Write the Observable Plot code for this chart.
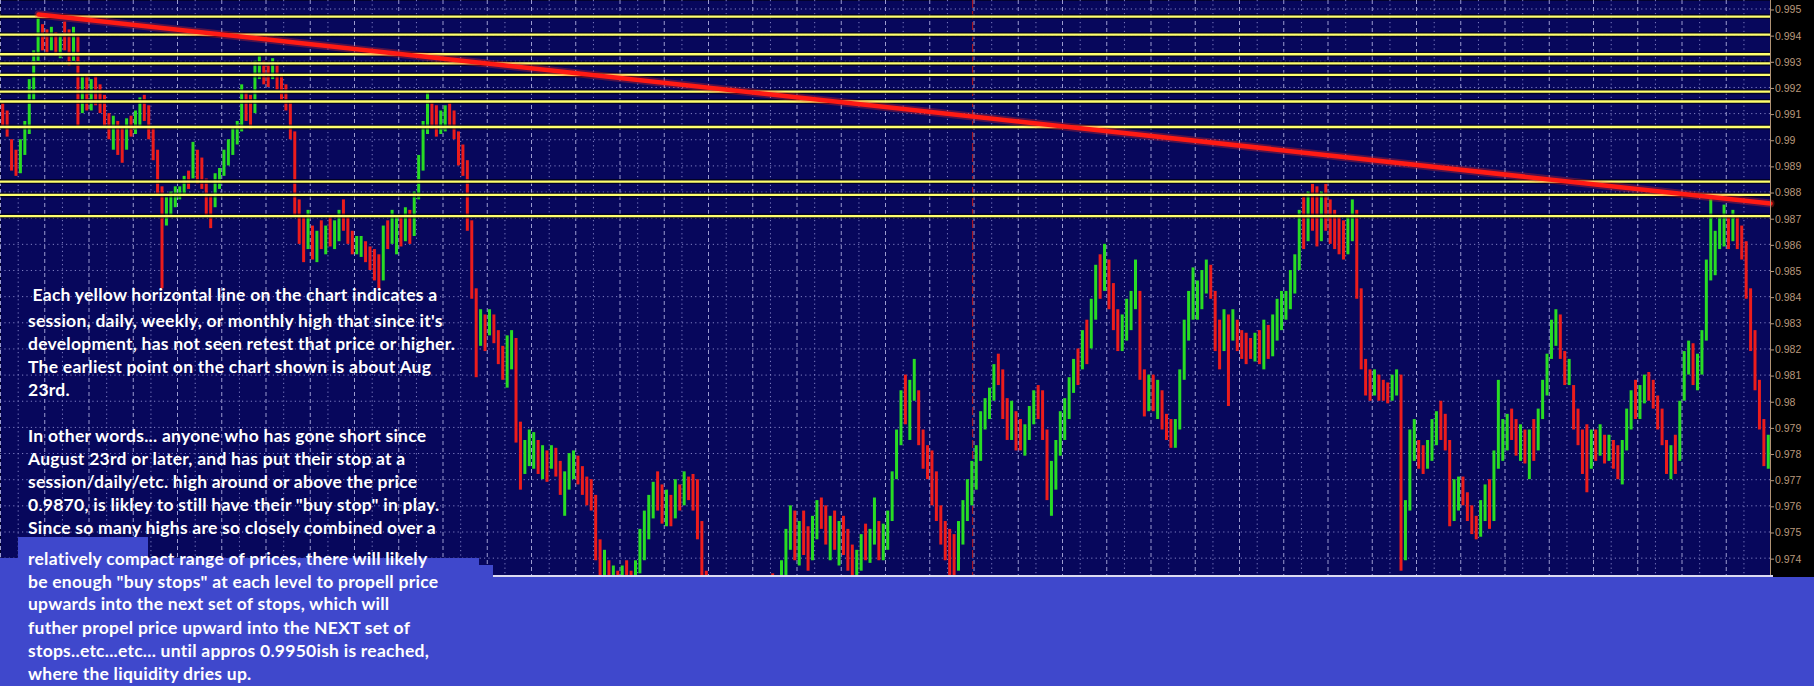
<!DOCTYPE html>
<html><head><meta charset="utf-8">
<script src="https://cdn.jsdelivr.net/npm/d3@7"></script>
<script src="https://cdn.jsdelivr.net/npm/@observablehq/plot@0.6"></script>
<style>
html,body{margin:0;padding:0;background:#3f48cc;}
#wrap{position:relative;width:1814px;height:686px;overflow:hidden;background:#3f48cc;}
#chart svg{display:block;}
#below{height:109px;background:#3f48cc;}
.patch{position:absolute;background:#3f48cc;}
.note{position:absolute;left:28px;color:#fff;font-family:Lato,"Open Sans",sans-serif;font-weight:700;font-size:17.5px;letter-spacing:0.25px;white-space:pre;line-height:20px;}
</style></head><body>
<div id="wrap"><div id="chart"></div><div id="below"></div></div>
<script>
// ---- data (prices in pips: 9908 = 0.9908), one bar per index ----
const firstOpen = 9910;
const barHigh = [
9914,9911,9900,9896,9900,9907,9923,9934,9947,9944,
9942,9943,9941,9940,9945,9942,9943,9940,9924,9925,
9923,9924,9921,9917,9910,9909,9907,9905,9908,9909,
9911,9916,9917,9913,9905,9896,9882,9878,9880,9882,
9882,9886,9888,9899,9896,9893,9885,9879,9887,9889,
9896,9900,9905,9907,9921,9918,9917,9930,9932,9930,
9929,9931,9929,9925,9921,9915,9903,9877,9871,9873,
9867,9865,9869,9867,9871,9869,9873,9877,9871,9865,
9863,9863,9861,9859,9858,9856,9867,9869,9873,9871,
9871,9874,9873,9880,9894,9907,9918,9915,9913,9911,
9913,9914,9911,9903,9898,9892,9869,9843,9835,9833,
9835,9833,9827,9821,9825,9827,9824,9792,9785,9789,
9788,9785,9783,9781,9783,9782,9777,9773,9780,9781,
9779,9775,9771,9770,9764,9747,9743,9739,9737,9735,
9737,9739,9735,9739,9751,9758,9764,9769,9773,9768,
9766,9764,9770,9768,9773,9771,9772,9770,9754,9735,
9724,9720,9718,9716,9720,9718,9722,9724,9721,9726,
9728,9730,9729,9733,9734,9732,9739,9751,9760,9758,
9754,9758,9752,9756,9762,9763,9760,9756,9758,9754,
9756,9751,9745,9743,9749,9753,9751,9763,9754,9753,
9758,9773,9789,9804,9810,9808,9816,9804,9789,9783,
9781,9773,9760,9754,9751,9749,9754,9762,9770,9777,
9783,9796,9801,9805,9814,9818,9812,9801,9800,9796,
9793,9791,9798,9804,9806,9804,9789,9777,9785,9796,
9801,9809,9816,9820,9827,9831,9839,9852,9856,9860,
9854,9845,9835,9833,9839,9842,9854,9842,9812,9810,
9810,9808,9804,9795,9793,9793,9812,9831,9842,9851,
9846,9850,9854,9852,9842,9831,9835,9833,9835,9831,
9827,9826,9824,9826,9827,9831,9829,9833,9839,9842,
9842,9850,9856,9873,9878,9880,9883,9882,9880,9883,
9877,9873,9871,9869,9871,9877,9873,9843,9816,9812,
9812,9810,9808,9807,9810,9812,9810,9762,9789,9793,
9785,9783,9785,9793,9796,9800,9795,9785,9770,9771,
9771,9765,9760,9756,9762,9768,9770,9781,9808,9793,
9795,9797,9793,9791,9789,9789,9793,9797,9808,9818,
9831,9835,9833,9819,9816,9806,9797,9789,9791,9789,
9789,9791,9787,9787,9785,9783,9785,9797,9804,9808,
9806,9810,9811,9808,9802,9797,9785,9783,9787,9800,
9819,9823,9822,9818,9827,9854,9877,9865,9871,9875,
9871,9873,9871,9867,9861,9843,9827,9808,9793,9787];
const barLow = [
9905,9901,9888,9886,9887,9894,9902,9915,9930,9934,
9933,9934,9932,9931,9934,9928,9930,9905,9910,9911,
9911,9913,9910,9905,9900,9896,9894,9891,9896,9901,
9902,9905,9907,9900,9892,9879,9843,9867,9871,9874,
9877,9879,9881,9885,9883,9881,9871,9866,9874,9881,
9886,9890,9894,9898,9903,9907,9904,9910,9923,9921,
9920,9923,9919,9915,9911,9900,9871,9860,9853,9858,
9854,9853,9858,9856,9859,9858,9861,9865,9860,9856,
9856,9855,9853,9850,9846,9843,9846,9858,9860,9856,
9859,9861,9860,9863,9877,9888,9902,9904,9901,9902,
9903,9905,9900,9890,9886,9865,9839,9809,9821,9819,
9825,9822,9814,9808,9805,9812,9784,9766,9772,9775,
9774,9772,9770,9769,9774,9771,9764,9756,9766,9770,
9768,9764,9760,9758,9739,9724,9724,9720,9719,9716,
9724,9724,9720,9724,9734,9739,9747,9755,9758,9753,
9752,9752,9755,9758,9760,9762,9758,9747,9724,9716,
9712,9708,9705,9703,9708,9706,9710,9712,9709,9714,
9716,9718,9717,9720,9722,9720,9724,9732,9743,9739,
9737,9741,9735,9739,9747,9751,9745,9739,9743,9737,
9741,9735,9730,9732,9735,9739,9738,9745,9739,9739,
9743,9754,9770,9783,9791,9785,9800,9783,9774,9770,
9760,9754,9745,9739,9733,9733,9735,9745,9754,9760,
9766,9777,9789,9793,9800,9806,9793,9785,9785,9781,
9781,9779,9785,9791,9793,9785,9762,9756,9766,9779,
9785,9793,9803,9806,9812,9814,9820,9831,9839,9842,
9835,9827,9819,9819,9823,9827,9835,9808,9794,9796,
9796,9793,9789,9785,9782,9782,9789,9808,9823,9831,
9831,9835,9841,9839,9819,9812,9819,9798,9823,9819,
9816,9814,9816,9815,9814,9812,9816,9817,9823,9827,
9831,9835,9841,9850,9858,9861,9865,9859,9861,9865,
9860,9858,9856,9854,9856,9861,9839,9812,9802,9800,
9802,9800,9800,9799,9800,9802,9735,9739,9758,9777,
9774,9772,9774,9777,9783,9785,9781,9752,9754,9758,
9760,9754,9749,9747,9748,9754,9751,9754,9774,9777,
9781,9785,9779,9777,9776,9770,9777,9781,9793,9802,
9816,9821,9816,9806,9806,9789,9783,9772,9765,9774,
9777,9779,9776,9777,9774,9770,9768,9781,9789,9793,
9793,9799,9800,9797,9789,9783,9772,9770,9772,9777,
9800,9810,9806,9804,9810,9823,9846,9848,9858,9859,
9858,9861,9858,9854,9839,9819,9804,9789,9775,9774];
const barClose = [
9908,9902,9892,9889,9897,9905,9920,9930,9940,9938,
9936,9940,9934,9937,9935,9933,9938,9918,9920,9914,
9919,9915,9913,9909,9902,9905,9898,9895,9905,9904,
9909,9910,9908,9901,9895,9882,9868,9875,9878,9879,
9880,9884,9883,9890,9886,9884,9874,9872,9884,9887,
9893,9897,9902,9905,9915,9912,9908,9926,9928,9925,
9922,9927,9921,9917,9912,9903,9874,9866,9861,9866,
9858,9862,9860,9864,9862,9866,9870,9869,9862,9858,
9858,9860,9855,9852,9849,9846,9862,9860,9866,9868,
9863,9870,9864,9878,9890,9902,9912,9908,9906,9909,
9910,9908,9902,9894,9889,9868,9842,9826,9832,9829,
9832,9824,9816,9810,9820,9822,9792,9778,9782,9785,
9785,9776,9779,9773,9780,9774,9767,9768,9776,9779,
9772,9766,9763,9760,9742,9730,9736,9725,9730,9722,
9733,9728,9724,9737,9748,9754,9760,9766,9762,9757,
9760,9755,9764,9762,9770,9765,9760,9750,9728,9720,
9716,9712,9709,9713,9710,9714,9717,9715,9719,9722,
9724,9722,9727,9730,9726,9729,9736,9748,9752,9745,
9750,9744,9740,9752,9758,9754,9748,9752,9746,9750,
9744,9738,9733,9740,9745,9742,9748,9750,9744,9749,
9755,9770,9786,9798,9795,9803,9805,9786,9778,9773,
9765,9758,9750,9744,9740,9736,9750,9757,9766,9773,
9779,9792,9798,9803,9812,9808,9796,9790,9792,9786,
9784,9788,9795,9800,9797,9790,9770,9772,9783,9792,
9797,9806,9812,9809,9822,9818,9834,9846,9843,9852,
9840,9830,9822,9828,9834,9838,9840,9812,9798,9804,
9800,9805,9793,9788,9785,9790,9808,9826,9835,9838,
9842,9845,9848,9842,9822,9816,9830,9820,9826,9824,
9820,9818,9817,9822,9819,9825,9821,9830,9835,9838,
9840,9846,9852,9868,9862,9876,9870,9864,9875,9868,
9866,9862,9860,9858,9865,9868,9845,9815,9808,9805,
9809,9803,9802,9801,9805,9808,9745,9758,9785,9789,
9778,9776,9782,9788,9790,9787,9784,9758,9765,9768,
9762,9757,9751,9749,9758,9765,9760,9777,9787,9790,
9790,9788,9782,9785,9779,9783,9781,9794,9805,9814,
9828,9830,9820,9810,9812,9792,9786,9780,9777,9785,
9782,9786,9779,9784,9778,9773,9781,9793,9801,9795,
9803,9807,9806,9800,9792,9786,9778,9780,9777,9796,
9815,9819,9810,9812,9825,9850,9860,9862,9866,9868,
9865,9868,9862,9858,9842,9822,9808,9792,9778,9784];

// unbroken highs (yellow levels)
const yellowLevels = [0.99471, 0.99402, 0.99327, 0.99292, 0.99248, 0.99184, 0.99146, 0.99049, 0.98840, 0.98789, 0.98708];
// descending trendline (bar index, price)
const trendBars = [8.6, 400];
const trendPrices = [0.99479, 0.98756];
// period separator
const separatorBar = 219.7;
// right axis tick labels
const priceTicks = [0.974,0.975,0.976,0.977,0.978,0.979,0.980,0.981,0.982,0.983,0.984,0.985,0.986,0.987,0.988,0.989,0.990,0.991,0.992,0.993,0.994,0.995];

const noteLines = [
" Each yellow horizontal line on the chart indicates a",
"session, daily, weekly, or monthly high that since it's",
"development, has not seen retest that price or higher.",
"The earliest point on the chart shown is about Aug",
"23rd.",
"In other words... anyone who has gone short since",
"August 23rd or later, and has put their stop at a",
"session/daily/etc. high around or above the price",
"0.9870, is likley to still have their \"buy stop\" in play.",
"Since so many highs are so closely combined over a",
"relatively compact range of prices, there will likely",
"be enough \"buy stops\" at each level to propell price",
"upwards into the next set of stops, which will",
"futher propel price upward into the NEXT set of",
"stops..etc...etc... until appros 0.9950ish is reached,",
"where the liquidity dries up."
];

// ---- build ----
const nBars = barClose.length;
const bars = barClose.map((c, i) => ({
  i, c, o: i ? barClose[i - 1] : firstOpen, h: barHigh[i], l: barLow[i]
}));
const trend = trendBars.map((b, k) => ({b, p: trendPrices[k]}));
const P = v => v / 10000;
const gridMajor = d3.range(0, nBars + 1, 10);
const gridMinor = d3.range(4, nBars, 10);

const chart = Plot.plot({
  width: 1814, height: 577,
  marginLeft: 0, marginRight: 44, marginTop: 0, marginBottom: 1,
  style: {background: "#000", fontFamily: "'Liberation Sans', Arial, sans-serif", fontSize: "10.5px", overflow: "visible"},
  x: {domain: [0, nBars], axis: null, label: null},
  y: {domain: [0.973298, 0.995325], axis: null, label: null},
  marks: [
    Plot.frame({fill: "#07075c", stroke: null}),
    Plot.ruleY(priceTicks, {stroke: "#8080c4", strokeDasharray: "1.2,3.2", strokeWidth: 1}),
    Plot.ruleX(gridMajor, {stroke: "#9c9cd0", strokeDasharray: "4,3", strokeWidth: 1}),
    Plot.ruleX(gridMinor, {stroke: "#8080c4", strokeDasharray: "1.2,3.2", strokeWidth: 1}),
    Plot.ruleX([separatorBar], {stroke: "#c41818", strokeDasharray: "8,3", strokeWidth: 1}),
    Plot.ruleX(bars, {
      x: d => d.i + 0.5, y1: d => P(d.l), y2: d => P(d.h),
      stroke: d => d.c >= d.o ? "#28dc24" : "#ec1c1c",
      strokeWidth: 3, clip: true
    }),
    Plot.ruleY(yellowLevels, {stroke: "#000010", strokeWidth: 5, strokeOpacity: 0.7}),
    Plot.ruleY(yellowLevels, {stroke: "#ffff6e", strokeWidth: 2.4}),
    Plot.line(trend, {x: "b", y: "p", stroke: "#ff3020", strokeWidth: 8, strokeOpacity: 0.3}),
    Plot.line(trend, {x: "b", y: "p", stroke: "#ff1a14", strokeWidth: 4.5}),
    Plot.ruleX([nBars], {stroke: "#b09274", strokeWidth: 1}),
    Plot.axisY(priceTicks, {
      anchor: "right", tickSize: 3, tickPadding: 1.5, label: null,
      tickFormat: d => String(+d.toFixed(3)),
      color: "#b8987c", fontSize: 10.5, dy: 1
    })
  ]
});
document.getElementById("chart").appendChild(chart);

// ---- overlay: paint patches, bottom border, annotation ----
const wrap = document.getElementById("wrap");
function box(l, t, w, h, bg) {
  const d = document.createElement("div");
  d.className = "patch";
  Object.assign(d.style, {left: l + "px", top: t + "px", width: w + "px", height: h + "px", background: bg});
  wrap.appendChild(d);
}
box(493, 575, 1280, 2, "#dcdcf2");
box(18, 537, 130, 41, "#3f48cc");
box(0, 558, 479, 20, "#3f48cc");
box(479, 565, 14, 13, "#3f48cc");

const lineCenters = [296, 322, 345, 368, 391, 437, 460, 483, 506, 529, 560, 583, 605, 629, 652, 675];
noteLines.forEach((t, k) => {
  const d = document.createElement("div");
  d.className = "note";
  d.textContent = t;
  d.style.top = (lineCenters[k] - 11) + "px";
  wrap.appendChild(d);
});
</script>
</body></html>
